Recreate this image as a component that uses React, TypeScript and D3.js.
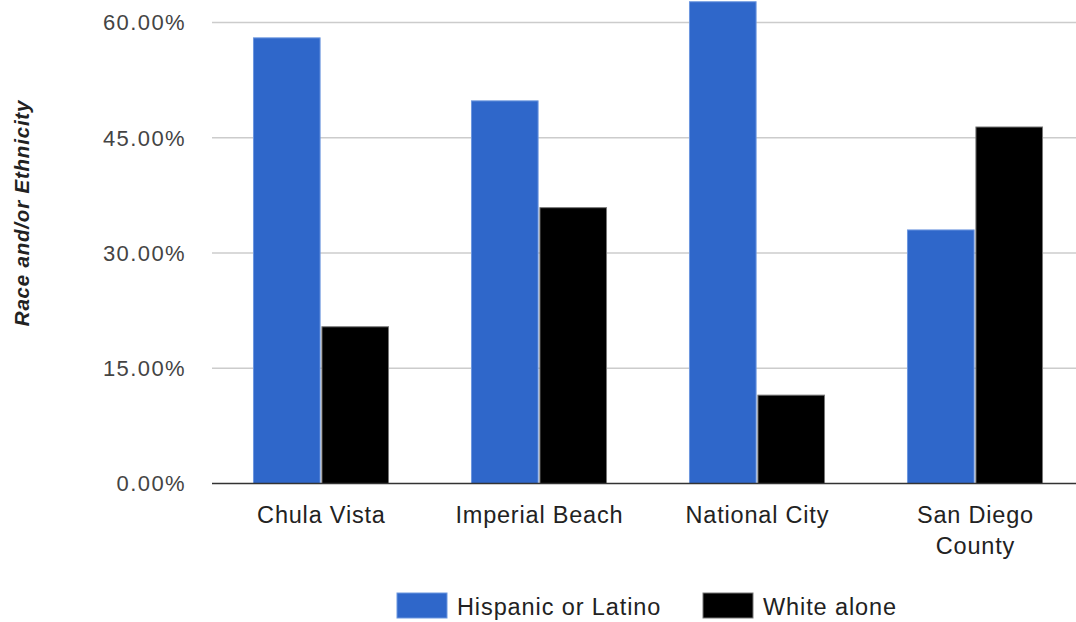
import { useMemo } from "react";
import * as d3 from "d3";

const CATEGORIES = ["Chula Vista", "Imperial Beach", "National City", "San Diego County"];
const CATEGORY_LINES = [["Chula Vista"], ["Imperial Beach"], ["National City"], ["San Diego", "County"]];
const SERIES = ["Hispanic or Latino", "White alone"];
const HISPANIC = [58.0, 49.8, 62.7, 33.0];
const WHITE = [20.4, 35.9, 11.5, 46.4];
const Y_TICKS = [0, 15, 30, 45, 60];

const COLORS = ["#2f67ca", "#000000"];
const STROKES = ["#6d97df", "#777777"];
const FONT = "'Liberation Sans', Arial, sans-serif";

export default function App() {
  const width = 1076;
  const height = 622;
  const margin = { left: 212, right: -8, top: 22.5, bottom: 138.5 };

  const x = useMemo(
    () =>
      d3
        .scaleBand()
        .domain(CATEGORIES)
        .range([margin.left, width - margin.right])
        .paddingInner(0.376)
        .paddingOuter(0.188),
    []
  );
  const inner = useMemo(
    () => d3.scaleBand().domain(SERIES).range([0, x.bandwidth()]).paddingInner(0.012),
    [x]
  );
  const y = useMemo(
    () => d3.scaleLinear().domain([0, 60]).range([height - margin.bottom, margin.top]),
    []
  );

  const values = [HISPANIC, WHITE];

  return (
    <svg
      width={width}
      height={height}
      style={{ position: "absolute", left: 0, top: 0, display: "block", background: "#fff" }}
      fontFamily={FONT}
    >
      {/* gridlines */}
      {Y_TICKS.filter((t) => t > 0).map((t) => (
        <line key={t} x1={margin.left} x2={width} y1={y(t)} y2={y(t)} stroke="#cccccc" strokeWidth={1.5} />
      ))}
      {/* y tick labels */}
      {Y_TICKS.map((t) => (
        <text
          key={t}
          x={186}
          y={y(t)}
          dy="0.36em"
          textAnchor="end"
          fontSize={22}
          letterSpacing={1.4}
          fill="#444444"
        >
          {t.toFixed(2)}%
        </text>
      ))}
      {/* bars */}
      {CATEGORIES.map((cat, ci) =>
        SERIES.map((s, si) => {
          const v = values[si][ci];
          const bx = (x(cat) ?? 0) + (inner(s) ?? 0);
          return (
            <rect
              key={cat + s}
              x={bx + 0.5}
              y={y(v)}
              width={inner.bandwidth() - 1}
              height={y(0) - y(v)}
              fill={COLORS[si]}
              stroke={STROKES[si]}
              strokeWidth={1}
            />
          );
        })
      )}
      {/* baseline */}
      <line x1={margin.left} x2={width} y1={y(0)} y2={y(0)} stroke="#333333" strokeWidth={1.5} />
      {/* category labels */}
      {CATEGORIES.map((cat, ci) => {
        const cx = (x(cat) ?? 0) + x.bandwidth() / 2 + 0.4;
        return (
          <text key={cat} x={cx} y={523} textAnchor="middle" fontSize={23.5} letterSpacing={0.8} fill="#222222">
            {CATEGORY_LINES[ci].map((line, li) => (
              <tspan key={line} x={cx} dy={li === 0 ? 0 : 31}>
                {line}
              </tspan>
            ))}
          </text>
        );
      })}
      {/* y axis title */}
      <text
        transform={`translate(29, ${y(30) - 40}) rotate(-90)`}
        textAnchor="middle"
        fontSize={20.5}
        fontWeight="bold"
        fontStyle="italic"
        letterSpacing={0.8}
        fill="#222222"
      >
        Race and/or Ethnicity
      </text>
      {/* legend */}
      {SERIES.map((s, si) => {
        const lx = [397, 703][si];
        return (
          <g key={s} transform={`translate(${lx}, 593)`}>
            <rect width={50} height={25} fill={COLORS[si]} stroke={STROKES[si]} strokeWidth={1} />
            <text x={60} y={21.5} fontSize={23.5} letterSpacing={0.9} fill="#222222">
              {s}
            </text>
          </g>
        );
      })}
    </svg>
  );
}
